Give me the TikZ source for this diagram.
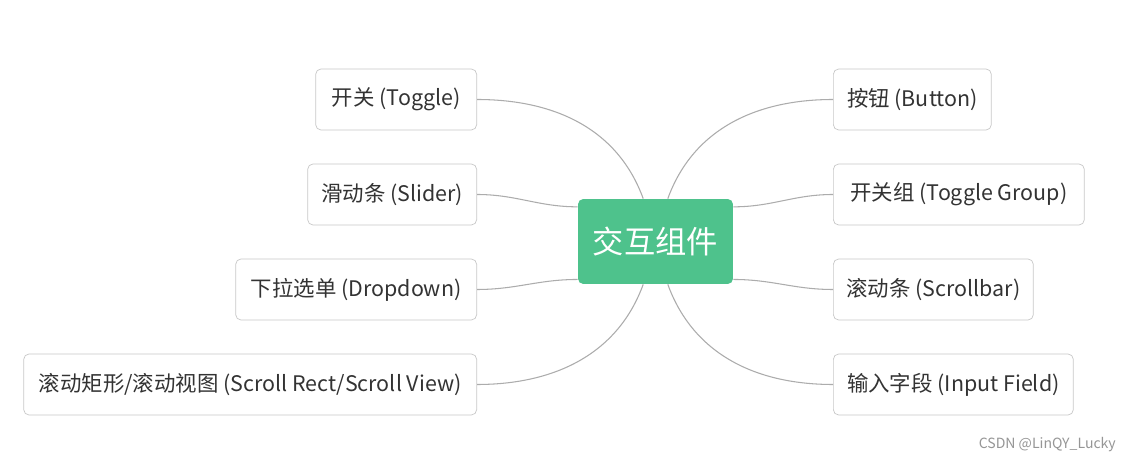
\documentclass[tikz,border=0pt]{standalone}
\usepackage{fontspec}
\setmainfont{Noto Sans CJK SC}
\usetikzlibrary{positioning}
\definecolor{hubGreen}{RGB}{78,194,140}
\definecolor{boxLine}{RGB}{200,200,200}
\definecolor{linkGray}{RGB}{172,172,172}
\definecolor{txtGray}{RGB}{51,51,51}
\definecolor{markGray}{RGB}{150,150,150}
\begin{document}
\begin{tikzpicture}[x=0.02cm,y=-0.02cm,
  item/.style={draw=boxLine,rounded corners=3pt,fill=white,text=txtGray,font=\fontsize{12.2}{15}\selectfont,minimum height=1.22cm,inner xsep=0.18cm},
  hub/.style={fill=hubGreen,rounded corners=3pt,text=white,font=\fontsize{17.8}{20}\selectfont,minimum width=3.1cm,minimum height=1.7cm},
  link/.style={draw=linkGray,line width=0.6pt}]
\useasboundingbox[fill=white] (0,0) rectangle (1126,465);
\node[hub] (hub) at (655.5,241.5) {交互组件};
% left side
\node[item,anchor=east,minimum width=3.22cm] (toggle) at (477,99.5) {开关 (Toggle)};
\node[item,anchor=east,minimum width=3.38cm] (slider) at (477,194.5) {滑动条 (Slider)};
\node[item,anchor=east,minimum width=4.82cm] (dropdown) at (477,289.5) {下拉选单 (Dropdown)};
\node[item,anchor=east,minimum width=9.06cm] (scrollrect) at (477,384.5) {滚动矩形/滚动视图 (Scroll Rect/Scroll View)};
% right side
\node[item,anchor=west,minimum width=3.16cm] (button) at (833,99.5) {按钮 (Button)};
\node[item,anchor=west,minimum width=5.02cm] (togglegroup) at (833,194.5) {开关组 (Toggle Group)};
\node[item,anchor=west,minimum width=4cm] (scrollbar) at (833,289.5) {滚动条 (Scrollbar)};
\node[item,anchor=west,minimum width=4.8cm] (inputfield) at (833,384.5) {输入字段 (Input Field)};
\node[text=markGray,font=\fontsize{8}{10}\selectfont,anchor=east] (mark) at (1122,445) {CSDN @LinQY\_Lucky};
\draw[link] (toggle.east) to[out=0,in=110] (hub.106);
\draw[link] (slider.east) to[out=0,in=180] (hub.156);
\draw[link] (dropdown.east) to[out=0,in=180] (hub.206);
\draw[link] (scrollrect.east) to[out=0,in=250] (hub.254);
\draw[link] (hub.74) to[out=70,in=180] (button.west);
\draw[link] (hub.24) to[out=0,in=180] (togglegroup.west);
\draw[link] (hub.334) to[out=0,in=180] (scrollbar.west);
\draw[link] (hub.286) to[out=290,in=180] (inputfield.west);
\end{tikzpicture}
\end{document}
